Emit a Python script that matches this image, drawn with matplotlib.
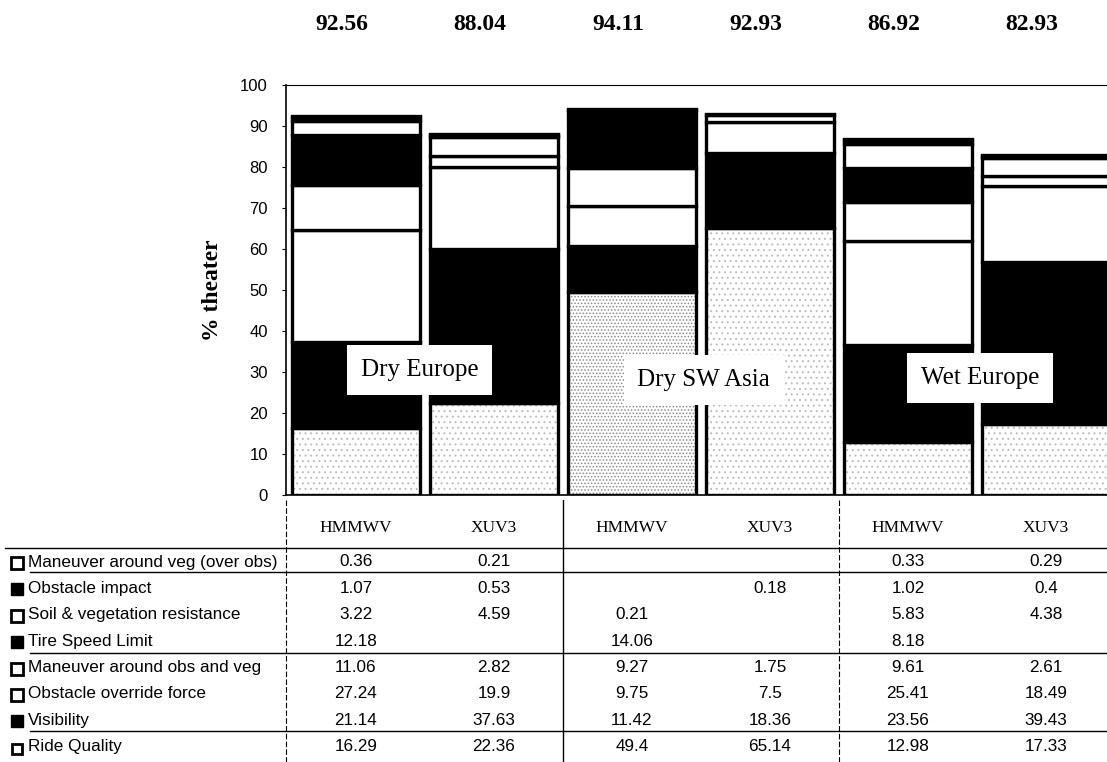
import numpy as np
import matplotlib.pyplot as plt
from matplotlib.transforms import blended_transform_factory

plt.rcParams['hatch.linewidth'] = 0.7

# ---- data (bottom to top of each stacked bar) ----
regions = ["Dry Europe", "Dry SW Asia", "Wet Europe"]
vehicles = ["HMMWV", "XUV3", "HMMWV", "XUV3", "HMMWV", "XUV3"]
totals = [92.56, 88.04, 94.11, 92.93, 86.92, 82.93]

ride_quality = [16.29, 22.36, 49.4, 65.14, 12.98, 17.33]
visibility = [21.14, 37.63, 11.42, 18.36, 23.56, 39.43]
override_force = [27.24, 19.9, 9.75, 7.5, 25.41, 18.49]
maneuver_obs = [11.06, 2.82, 9.27, 1.75, 9.61, 2.61]
tire_speed = [12.18, None, 14.06, None, 8.18, None]
soil_veg = [3.22, 4.59, 0.21, None, 5.83, 4.38]
obstacle_impact = [1.07, 0.53, None, 0.18, 1.02, 0.4]
maneuver_veg = [0.36, 0.21, None, None, 0.33, 0.29]

# table order (top to bottom)
rows = [
    ("Maneuver around veg (over obs)", maneuver_veg, "white"),
    ("Obstacle impact", obstacle_impact, "black"),
    ("Soil & vegetation resistance", soil_veg, "white"),
    ("Tire Speed Limit", tire_speed, "black"),
    ("Maneuver around obs and veg", maneuver_obs, "white"),
    ("Obstacle override force", override_force, "white"),
    ("Visibility", visibility, "black"),
    ("Ride Quality", ride_quality, "speckle"),
]

SERIF = "Liberation Serif"
SANS = "Liberation Sans"

W, H = 1107, 762
fig = plt.figure(figsize=(W / 100, H / 100), dpi=100)
ax = fig.add_axes([286 / W, (H - 495) / H, (W - 286) / W, 410 / H])

xpos = np.arange(len(vehicles))
xmin, xmax = -0.507, -0.507 + (W - 286) / 138
width = 0.93

bottom = np.zeros(len(vehicles))
for name, vals, style in rows[::-1]:
    v = np.array([0 if a is None else a for a in vals], dtype=float)
    for i in range(len(v)):
        if v[i] == 0:
            continue
        if style == "speckle":
            dark = i == 2
            ax.bar(xpos[i], v[i], width, bottom=bottom[i], color="white",
                   hatch="....." if dark else "...",
                   edgecolor="#8a8a8a" if dark else "#bdbdbd", linewidth=0)
            ax.bar(xpos[i], v[i], width, bottom=bottom[i], fill=False,
                   edgecolor="black", linewidth=2.4)
        else:
            ax.bar(xpos[i], v[i], width, bottom=bottom[i], color=style,
                   edgecolor="black", linewidth=2.4)
    bottom += v

ax.set_xlim(xmin, xmax)
ax.set_ylim(0, 100)
ax.set_yticks(np.arange(0, 101, 10))
ax.set_xticks([])
ax.tick_params(axis="y", length=3, labelsize=12, pad=10)
for lab in ax.get_yticklabels():
    lab.set_fontfamily(SANS)
ax.spines["right"].set_visible(False)
ax.spines["top"].set_linestyle((0, (4, 1)))
ax.spines["top"].set_linewidth(0.8)
ax.spines["left"].set_linewidth(1.2)
ax.spines["bottom"].set_linewidth(1.2)
ax.set_ylabel("% theater", fontsize=17, fontweight="bold", family=SERIF)
ax.yaxis.set_label_coords((223 - 286) / (W - 286), 0.5)

# region labels
label_pos = [(0.46, 30.5), (2.52, 28.0), (4.52, 28.5)]
for (lx, ly), reg in zip(label_pos, regions):
    ax.text(lx, ly, reg, ha="center", va="center", fontsize=18, family=SERIF,
            bbox=dict(boxstyle="square,pad=0.55", facecolor="white", edgecolor="none"))

# totals above the chart
trans = blended_transform_factory(ax.transData, fig.transFigure)
for x, t in zip(xpos, totals):
    ax.text(x - 0.1, 1 - 25 / H, f"{t:.2f}", transform=trans, ha="center", va="center",
            fontsize=17, fontweight="bold", family=SERIF)

# ---- data table ----
tab = fig.add_axes([0, 0, 1, (H - 500) / H])
tab.set_xlim(xmin - 286 / 138, xmax)
tab.set_ylim(H, 500)
tab.axis("off")

px = lambda p: xmin - 286 / 138 + p / 138  # pixel -> table x

for x, veh in zip(xpos, vehicles):
    tab.text(x, 528, veh, ha="center", va="center", fontsize=12.5, family=SERIF)

row_y = 562 + 26.4 * np.arange(len(rows))
for y, (name, vals, style) in zip(row_y, rows):
    if style == "black":
        tab.plot(px(17), y + 1, marker="s", ms=8, mfc="black", mec="black")
    elif style == "speckle":
        tab.plot(px(17), y + 2, marker="s", ms=7, mfc="white", mec="black", mew=2)
    else:
        tab.plot(px(17), y + 1, marker="s", ms=8, mfc="white", mec="black", mew=2)
    tab.text(px(28), y, name, ha="left", va="center", fontsize=12.3, family=SANS)
    for x, v in zip(xpos, vals):
        if v is not None:
            tab.text(x, y, f"{v:g}", ha="center", va="center", fontsize=12.3, family=SANS)

# table rules
tab.plot([px(5), px(W)], [548, 548], color="black", lw=1)
for yl in (572, 653, 731):
    tab.plot([px(30), px(W)], [yl, yl], color="black", lw=1)
tab.plot([xmin, xmin], [500, H], color="black", lw=0.8, ls=(0, (5, 2)))
tab.plot([1.5, 1.5], [500, H], color="black", lw=1)
tab.plot([3.5, 3.5], [500, H], color="black", lw=0.8, ls=(0, (5, 2)))

fig.savefig("out.png", dpi=100)
